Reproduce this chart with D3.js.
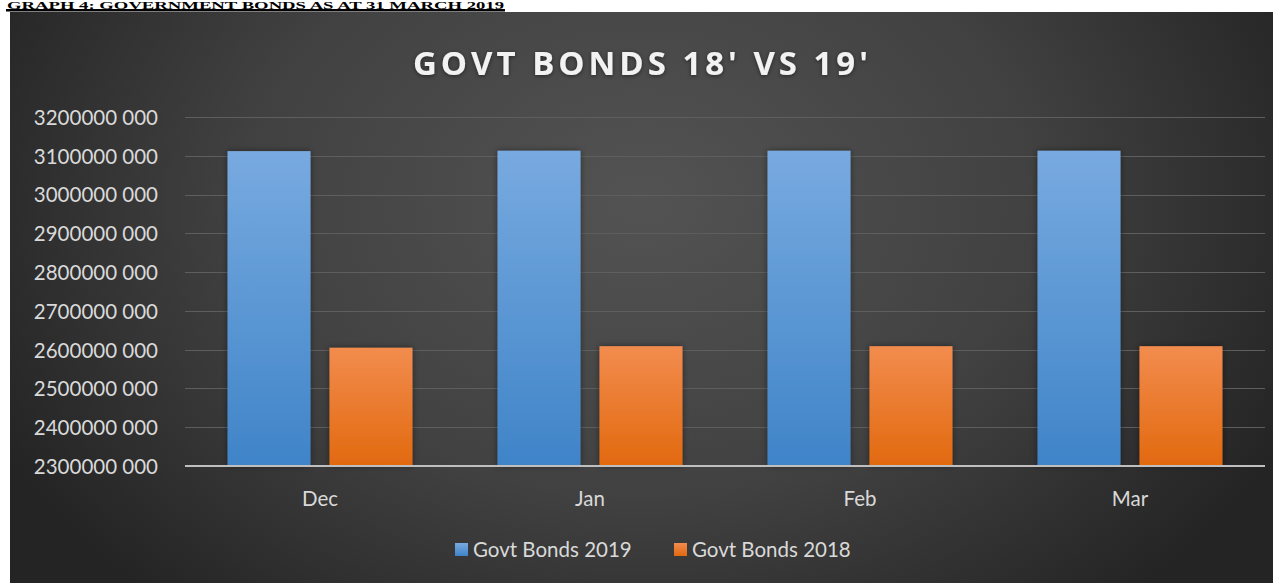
<!DOCTYPE html>
<html>
<head>
<meta charset="utf-8">
<script src="https://cdn.jsdelivr.net/npm/d3@7"></script>
<style>
  html, body { margin: 0; padding: 0; background: #ffffff; overflow: hidden; }
  svg { display: block; }
</style>
</head>
<body>
<svg id="chart" width="1282" height="583"></svg>
<script>
// ---- data ----
const categories = ["Dec", "Jan", "Feb", "Mar"];
const seriesNames = ["Govt Bonds 2019", "Govt Bonds 2018"];
const bonds2019 = [3112000000, 3113000000, 3113000000, 3113000000];
const bonds2018 = [2605000000, 2609000000, 2609000000, 2609000000];
const yTicks = [2300000000, 2400000000, 2500000000, 2600000000, 2700000000,
                2800000000, 2900000000, 3000000000, 3100000000, 3200000000];
const chartTitle = "GOVT BONDS 18' VS 19'";
const pageHeading = "GRAPH 4: GOVERNMENT BONDS AS AT 31 MARCH 2019";

const svg = d3.select("#chart");
const defs = svg.append("defs");

// background gradient
const bg = defs.append("radialGradient").attr("id", "bgGrad")
  .attr("gradientUnits", "userSpaceOnUse")
  .attr("cx", 640).attr("cy", 200).attr("r", 720)
  .attr("gradientTransform", "translate(640,200) scale(1,0.75) translate(-640,-200)");
bg.append("stop").attr("offset", "0%").attr("stop-color", "#535353");
bg.append("stop").attr("offset", "55%").attr("stop-color", "#414141");
bg.append("stop").attr("offset", "100%").attr("stop-color", "#242424");

const gradBlue = defs.append("linearGradient").attr("id", "gBlue")
  .attr("x1", 0).attr("y1", 0).attr("x2", 0).attr("y2", 1);
gradBlue.append("stop").attr("offset", "0%").attr("stop-color", "#78aae0");
gradBlue.append("stop").attr("offset", "100%").attr("stop-color", "#3f84c8");
const gradOrange = defs.append("linearGradient").attr("id", "gOrange")
  .attr("x1", 0).attr("y1", 0).attr("x2", 0).attr("y2", 1);
gradOrange.append("stop").attr("offset", "0%").attr("stop-color", "#f28c4e");
gradOrange.append("stop").attr("offset", "100%").attr("stop-color", "#e2690f");

const shadow = defs.append("filter").attr("id", "shadow")
  .attr("x", "-20%").attr("y", "-20%").attr("width", "140%").attr("height", "140%");
shadow.append("feDropShadow").attr("dx", 0).attr("dy", 0)
  .attr("stdDeviation", 3).attr("flood-color", "#000").attr("flood-opacity", 0.45);

const titleGlow = defs.append("filter").attr("id", "tglow")
  .attr("x", "-10%").attr("y", "-30%").attr("width", "120%").attr("height", "160%");
titleGlow.append("feDropShadow").attr("dx", 0).attr("dy", 1)
  .attr("stdDeviation", 2).attr("flood-color", "#000").attr("flood-opacity", 0.5);

// page heading (fits in the thin band above the chart)
svg.append("text")
  .attr("x", 7).attr("y", 8.6)
  .attr("font-family", "'Liberation Serif', 'Times New Roman', serif")
  .attr("font-weight", "bold").attr("font-size", 9.4)
  .attr("textLength", 497).attr("lengthAdjust", "spacingAndGlyphs")
  .attr("fill", "#000").text(pageHeading);
svg.append("rect").attr("x", 6).attr("y", 9).attr("width", 499).attr("height", 2.5).attr("fill", "#000");

// chart panel
svg.append("rect").attr("x", 10).attr("y", 12).attr("width", 1263).attr("height", 571)
  .attr("fill", "url(#bgGrad)");

// scales
const x0 = d3.scaleBand().domain(categories).range([185, 1265])
  .paddingInner(0.315).paddingOuter(0.1575);
const x1 = d3.scaleBand().domain(seriesNames).range([0, x0.bandwidth()]).paddingInner(0.186);
const y = d3.scaleLinear().domain([yTicks[0], yTicks[yTicks.length - 1]]).range([466, 117]);

const fmt = v => { const s = String(v); return s.slice(0, -3) + " " + s.slice(-3); };
const font = "Lato, 'Open Sans', sans-serif";

// y axis labels
const yAxis = d3.axisLeft(y).tickValues(yTicks).tickFormat(fmt).tickSize(0).tickPadding(0);
const gy = svg.append("g").attr("transform", "translate(158,0)").call(yAxis);
gy.select(".domain").remove();
gy.selectAll("text").attr("font-family", font).attr("font-size", 20.5)
  .attr("fill", "#d9d9d9").attr("dy", "0.36em");

// gridlines
svg.append("g").selectAll("line").data(yTicks.slice(1)).join("line")
  .attr("x1", 185).attr("x2", 1265)
  .attr("y1", d => Math.round(y(d)) + 0.5).attr("y2", d => Math.round(y(d)) + 0.5)
  .attr("stroke", "#5e5e5e").attr("stroke-width", 1);

// bars
const rows = categories.map((c, i) => ({ cat: c, vals: [bonds2019[i], bonds2018[i]] }));
const fills = ["url(#gBlue)", "url(#gOrange)"];
const gBars = svg.append("g");
rows.forEach(r => {
  gBars.selectAll(null).data(r.vals.map((v, j) => ({ v, j }))).join("rect")
    .attr("x", d => x0(r.cat) + x1(seriesNames[d.j]))
    .attr("width", x1.bandwidth())
    .attr("y", d => y(d.v))
    .attr("height", d => y(yTicks[0]) - y(d.v))
    .attr("fill", d => fills[d.j])
    .attr("filter", "url(#shadow)");
});

// x axis
const xAxis = d3.axisBottom(x0).tickSize(0).tickPadding(0);
const gx = svg.append("g").attr("transform", "translate(0," + y(yTicks[0]) + ")").call(xAxis);
gx.select(".domain").remove();
gx.selectAll("text").attr("font-family", font).attr("font-size", 20.5)
  .attr("fill", "#d9d9d9").attr("dy", 0).attr("y", 40);
svg.append("line").attr("x1", 185).attr("x2", 1265)
  .attr("y1", y(yTicks[0])).attr("y2", y(yTicks[0]))
  .attr("stroke", "#bfbfbf").attr("stroke-width", 2);

// title
svg.append("text").attr("x", 640.5).attr("y", 75).attr("text-anchor", "middle")
  .attr("font-family", "'Open Sans', Lato, sans-serif").attr("font-weight", "bold").attr("font-size", 33)
  .attr("textLength", 455).attr("lengthAdjust", "spacing")
  .attr("fill", "#f2f2f2").attr("filter", "url(#tglow)").text(chartTitle);

// legend
const legendItems = [
  { name: seriesNames[0], x: 455 },
  { name: seriesNames[1], x: 674 }
];
const lg = svg.append("g").selectAll("g").data(legendItems).join("g")
  .attr("transform", d => "translate(" + d.x + ",0)");
lg.append("rect").attr("x", 0).attr("y", 543).attr("width", 13).attr("height", 13)
  .attr("fill", (d, i) => fills[i]);
lg.append("text").attr("x", 18).attr("y", 557)
  .attr("font-family", font).attr("font-size", 20.5).attr("fill", "#d9d9d9")
  .text(d => d.name);
</script>
</body>
</html>
